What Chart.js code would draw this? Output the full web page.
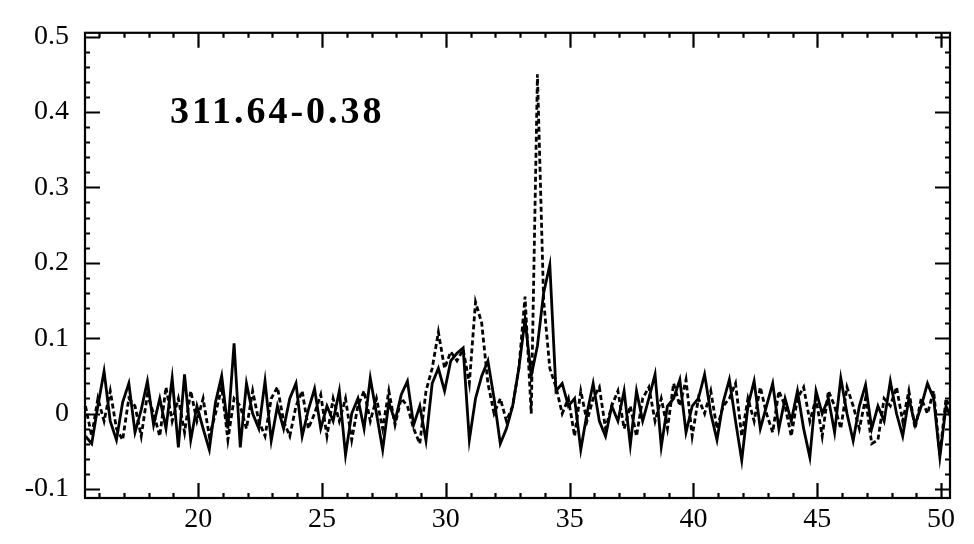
<!DOCTYPE html>
<html>
<head>
<meta charset="utf-8">
<script src="https://cdn.jsdelivr.net/npm/chart.js@4.4.1/dist/chart.umd.min.js"></script>
<style>
  html, body { margin: 0; padding: 0; background: #fff; }
  canvas { display: block; }
</style>
</head>
<body>
<canvas id="spec" width="974" height="544"></canvas>
<script>
// spectrum 311.64-0.38 : two traces on the same channel grid
const sourceName = '311.64-0.38';
const vStart = 15.45;   // first channel
const vStep = 0.25;     // channel width

const xTicks = [20, 25, 30, 35, 40, 45, 50];
const yTicks = [-0.1, 0, 0.1, 0.2, 0.3, 0.4, 0.5];

// solid trace
const solid = [
  -0.03, -0.04, 0.01, 0.056, -0.01, -0.035, 0.015, 0.04, -0.025, 0.005,
  0.043, -0.015, 0.02, -0.02, 0.047, -0.045, 0.052, -0.035, 0.01, -0.02,
  -0.048, 0.015, 0.05, -0.02, 0.093, -0.045, 0.04, 0.0, -0.02, 0.043,
  -0.036, 0.01, -0.02, 0.02, 0.04, -0.03, 0.005, 0.033, -0.02, 0.01,
  -0.01, 0.03, -0.055, 0.0, 0.02, -0.02, 0.047, 0.0, -0.048, 0.015,
  -0.01, 0.025, 0.043, -0.015, 0.01, -0.036, 0.04, 0.06, 0.03, 0.07,
  0.08, 0.087, -0.035, 0.02, 0.05, 0.07, 0.02, -0.04, -0.02, 0.01,
  0.06, 0.125, 0.05, 0.09, 0.16, 0.197, 0.03, 0.04, 0.01, 0.02,
  -0.048, 0.0, 0.04, -0.01, -0.03, 0.01, -0.01, 0.03, -0.042, 0.03,
  -0.01, 0.02, 0.052, -0.044, 0.01, 0.02, 0.045, -0.025, 0.01, 0.02,
  0.052, 0.0, -0.035, 0.015, 0.045, -0.01, -0.062, 0.01, 0.043, -0.02,
  0.01, 0.04, -0.02, 0.02, -0.01, 0.03, -0.02, -0.058, 0.03, 0.0,
  0.02, -0.025, 0.047, 0.0, -0.036, 0.01, 0.038, -0.02, 0.01, -0.01,
  0.043, 0.0, -0.03, 0.02, -0.015, 0.01, 0.04, 0.02, -0.058, 0.01,
  -0.01
];

// dotted trace
const dotted = [
  0.01, -0.03, 0.02, -0.01, 0.03, -0.02, -0.035, 0.02, 0.01, -0.03,
  0.025, 0.0, -0.03, 0.035, -0.01, 0.02, -0.025, 0.03, -0.01, 0.02,
  -0.03, 0.0, 0.035, -0.035, 0.02, 0.01, -0.02, 0.03, -0.01, -0.03,
  0.02, 0.035, -0.01, -0.03, 0.01, 0.03, -0.02, 0.0, 0.025, -0.03,
  0.02, -0.01, 0.02, -0.035, 0.01, 0.03, -0.01, 0.02, -0.02, 0.03,
  -0.015, 0.02, 0.01, -0.02, -0.04, 0.03, 0.06, 0.108, 0.06, 0.082,
  0.07, 0.085, 0.04, 0.148, 0.12, 0.04, 0.0, 0.02, -0.01, 0.01,
  0.06, 0.155, 0.0, 0.45, 0.15, 0.06, 0.035, 0.0, 0.02, -0.03,
  0.03, -0.01, 0.02, 0.035, -0.02, 0.01, 0.03, -0.02, 0.01, -0.03,
  0.02, 0.035, -0.01, 0.02, -0.02, 0.04, 0.01, 0.045, -0.03, 0.02,
  0.0, 0.03, -0.02, 0.01, 0.02, 0.04, -0.03, 0.02, -0.01, 0.035,
  0.0, -0.025, 0.03, 0.01, -0.03, 0.02, 0.035, -0.01, 0.02, -0.03,
  0.03, 0.01, -0.02, 0.035, 0.01, -0.02, 0.02, -0.04, -0.035, 0.02,
  0.01, 0.035, -0.01, 0.03, -0.02, 0.02, 0.0, 0.03, -0.055, 0.02,
  0.0
];

const velocity = solid.map((_, i) => +(vStart + i * vStep).toFixed(2));
const toPts = arr => arr.map((y, i) => ({ x: velocity[i], y: y }));

const serif = '"Liberation Serif", "DejaVu Serif", serif';

// frame with inward ticks on all four sides + source label
const framePlugin = {
  id: 'frame',
  afterDatasetsDraw(chart) {
    const ctx = chart.ctx;
    const { left, right, top, bottom } = chart.chartArea;
    const xs = chart.scales.x, ys = chart.scales.y;
    ctx.save();
    ctx.strokeStyle = '#000';
    ctx.lineWidth = 2.2;
    ctx.strokeRect(left, top, right - left, bottom - top);
    ctx.beginPath();
    for (let v = 16; v <= 50; v++) {
      const px = Math.round(xs.getPixelForValue(v)) + 0.5;
      const len = v % 5 === 0 ? 15 : 5;
      ctx.moveTo(px, bottom); ctx.lineTo(px, bottom - len);
      ctx.moveTo(px, top); ctx.lineTo(px, top + len);
    }
    for (let k = -5; k <= 25; k++) {
      const py = Math.round(ys.getPixelForValue(k * 0.02)) + 0.5;
      const len = k % 5 === 0 ? 15 : 5;
      ctx.moveTo(left, py); ctx.lineTo(left + len, py);
      ctx.moveTo(right, py); ctx.lineTo(right - len, py);
    }
    ctx.stroke();

    ctx.fillStyle = '#000';
    ctx.font = 'bold 38px ' + serif;
    if ('letterSpacing' in ctx) ctx.letterSpacing = '3px';
    ctx.textBaseline = 'alphabetic';
    ctx.fillText(sourceName, 170, 123);
    ctx.restore();
  }
};

new Chart(document.getElementById('spec').getContext('2d'), {
  type: 'line',
  data: {
    datasets: [
      {
        data: toPts(solid), borderColor: '#000', borderWidth: 2.8,
        pointRadius: 0, tension: 0, fill: false
      },
      {
        data: toPts(dotted), borderColor: '#000', borderWidth: 2.8,
        borderDash: [5, 3], pointRadius: 0, tension: 0, fill: false
      }
    ]
  },
  options: {
    responsive: false,
    animation: false,
    layout: { padding: { top: 28, right: 24, left: 0, bottom: 0 } },
    plugins: { legend: { display: false }, tooltip: { enabled: false } },
    scales: {
      x: {
        type: 'linear', min: 15.43, max: 50.36,
        afterBuildTicks: s => { s.ticks = xTicks.map(v => ({ value: v })); },
        afterFit: s => { s.height = 46; },
        grid: { display: false, drawTicks: false },
        border: { display: false },
        ticks: {
          color: '#000', padding: 5, maxRotation: 0, autoSkip: false,
          font: { family: serif, size: 28 },
          callback: v => String(v)
        }
      },
      y: {
        type: 'linear', min: -0.112, max: 0.505,
        afterBuildTicks: s => { s.ticks = yTicks.map(v => ({ value: v })); },
        afterFit: s => { s.width = 85; },
        grid: { display: false, drawTicks: false },
        border: { display: false },
        ticks: {
          color: '#000', padding: 16, autoSkip: false,
          font: { family: serif, size: 28 },
          callback: v => (Math.abs(v) < 1e-9 ? '0' : v.toFixed(1))
        }
      }
    }
  },
  plugins: [framePlugin]
});
</script>
</body>
</html>
